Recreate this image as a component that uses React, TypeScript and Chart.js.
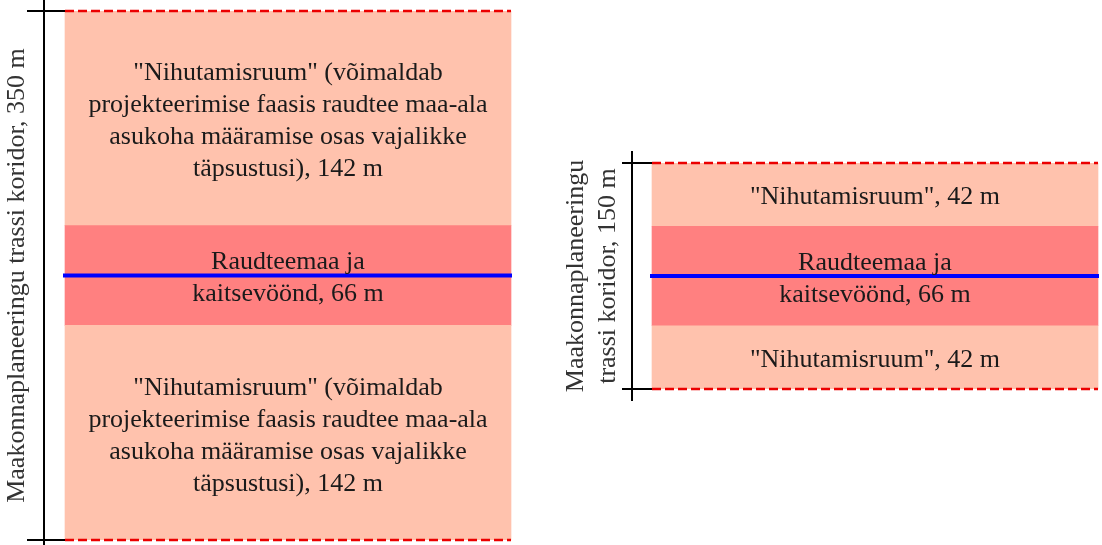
import React, { useEffect, useRef } from "react";
import { Chart, registerables } from "chart.js";

Chart.register(...registerables);

// ---- data ----
const zoneNames = ["Nihutamisruum (alumine)", "Raudteemaa ja kaitsevöönd", "Nihutamisruum (ülemine)"];
const leftWidths = [142, 66, 142];
const rightWidths = [42, 66, 42];
const leftTotal = 350;
const rightTotal = 150;
const leftTitle = ["Maakonnaplaneeringu trassi koridor, 350 m"];
const rightTitle = ["Maakonnaplaneeringu", "trassi koridor, 150 m"];
const leftLongLabel = [
  '"Nihutamisruum" (võimaldab',
  "projekteerimise faasis raudtee maa-ala",
  "asukoha määramise osas vajalikke",
  "täpsustusi), 142 m",
];
const middleLabel = ["Raudteemaa ja", "kaitsevöönd, 66 m"];
const rightShortLabel = ['"Nihutamisruum", 42 m'];
const leftLabels = [leftLongLabel, middleLabel, leftLongLabel];
const rightLabels = [rightShortLabel, middleLabel, rightShortLabel];

// ---- styles ----
const FONT = '"Liberation Serif", "DejaVu Serif", serif';
const LIGHT = "rgb(255,194,173)";
const MID = "rgb(255,128,128)";
const zoneColors = [LIGHT, MID, LIGHT];

type Setup = {
  widths: number[];
  total: number;
  labels: string[][];
  title: string[];
  padTop: number;
  padBottom: number;
  padRight: number;
  axisWidth: number;
  titlePad: number;
  tickLen: number;
};

function buildConfig(s: Setup): any {
  const ranges: [number, number][] = [];
  let acc = 0;
  for (const w of s.widths) {
    ranges.push([acc, acc + w]);
    acc += w;
  }
  const corridorPlugin = {
    id: "corridor",
    afterDatasetsDraw(chart: any) {
      const { ctx, chartArea } = chart;
      const y = chart.scales.y;
      const bar = chart.getDatasetMeta(0).data[0];
      const { x: bx, width: bw } = bar.getProps(["x", "width"], true);
      const x0 = bx - bw / 2;
      const x1 = bx + bw / 2;
      const yTop = y.getPixelForValue(s.total);
      const yBot = y.getPixelForValue(0);
      const ax = chartArea.left;
      ctx.save();
      // corridor axis
      ctx.strokeStyle = "#000";
      ctx.lineWidth = 2;
      ctx.beginPath();
      ctx.moveTo(ax, yTop - 12);
      ctx.lineTo(ax, yBot + 12);
      ctx.stroke();
      // end ticks
      for (const yy of [yTop, yBot]) {
        ctx.beginPath();
        ctx.moveTo(ax - s.tickLen, yy);
        ctx.lineTo(x0, yy);
        ctx.stroke();
      }
      // dashed red edges
      ctx.strokeStyle = "rgb(235,0,0)";
      ctx.lineWidth = 2.5;
      ctx.setLineDash([9, 4]);
      for (const yy of [yTop, yBot]) {
        ctx.beginPath();
        ctx.moveTo(x0, yy);
        ctx.lineTo(x1, yy);
        ctx.stroke();
      }
      ctx.setLineDash([]);
      // blue centre line
      const mid = (ranges[1][0] + ranges[1][1]) / 2;
      const ym = y.getPixelForValue(mid);
      ctx.strokeStyle = "rgb(0,0,255)";
      ctx.lineWidth = 4;
      ctx.beginPath();
      ctx.moveTo(x0 - 2, ym);
      ctx.lineTo(x1 + 1, ym);
      ctx.stroke();
      // labels
      ctx.fillStyle = "#1a1a1a";
      ctx.font = `26px ${FONT}`;
      ctx.textAlign = "center";
      ctx.textBaseline = "middle";
      const lh = 32;
      ranges.forEach((r, i) => {
        const lines = s.labels[i];
        const cy = y.getPixelForValue((r[0] + r[1]) / 2) + 3;
        const start = cy - ((lines.length - 1) * lh) / 2;
        lines.forEach((t, j) => ctx.fillText(t, bx, start + j * lh));
      });
      ctx.restore();
    },
  };
  return {
    type: "bar",
    data: {
      labels: ["koridor"],
      datasets: ranges.map((r, i) => ({
        label: zoneNames[i],
        data: [r],
        backgroundColor: zoneColors[i],
        borderWidth: 0,
        barThickness: 446,
        grouped: false,
      })),
    },
    options: {
      animation: false,
      responsive: true,
      maintainAspectRatio: false,
      layout: { padding: { top: s.padTop, bottom: s.padBottom, left: 0, right: s.padRight } },
      plugins: { legend: { display: false }, tooltip: { enabled: false } },
      scales: {
        x: { type: "category", display: false, offset: true },
        y: {
          min: 0,
          max: s.total,
          display: true,
          ticks: { display: false },
          grid: { display: false },
          border: { display: false },
          title: {
            display: true,
            text: s.title,
            color: "#333",
            font: { family: FONT, size: 26, lineHeight: 1.2 },
            padding: { top: s.titlePad, bottom: 0 },
          },
          afterFit: (sc: any) => {
            sc.width = s.axisWidth;
          },
        },
      },
    },
    plugins: [corridorPlugin],
  };
}

function CorridorChart({ setup, style }: { setup: Setup; style: React.CSSProperties }) {
  const ref = useRef<HTMLCanvasElement | null>(null);
  useEffect(() => {
    if (!ref.current) return;
    const chart = new Chart(ref.current, buildConfig(setup));
    return () => chart.destroy();
  }, []);
  return (
    <div style={{ position: "absolute", ...style }}>
      <canvas ref={ref} />
    </div>
  );
}

export default function App() {
  const leftSetup: Setup = {
    widths: leftWidths,
    total: leftTotal,
    labels: leftLabels,
    title: leftTitle,
    padTop: 11,
    padBottom: 5,
    padRight: 13,
    axisWidth: 44,
    titlePad: 2,
    tickLen: 17,
  };
  const rightSetup: Setup = {
    widths: rightWidths,
    total: rightTotal,
    labels: rightLabels,
    title: rightTitle,
    padTop: 163,
    padBottom: 156,
    padRight: 22,
    axisWidth: 92,
    titlePad: 21,
    tickLen: 10,
  };
  return (
    <div
      style={{
        position: "fixed",
        left: 0,
        top: 0,
        width: 1102,
        height: 545,
        overflow: "hidden",
        background: "#fff",
      }}
    >
      <CorridorChart setup={leftSetup} style={{ left: 0, top: 0, width: 545, height: 545 }} />
      <CorridorChart setup={rightSetup} style={{ left: 540, top: 0, width: 600, height: 545 }} />
    </div>
  );
}
